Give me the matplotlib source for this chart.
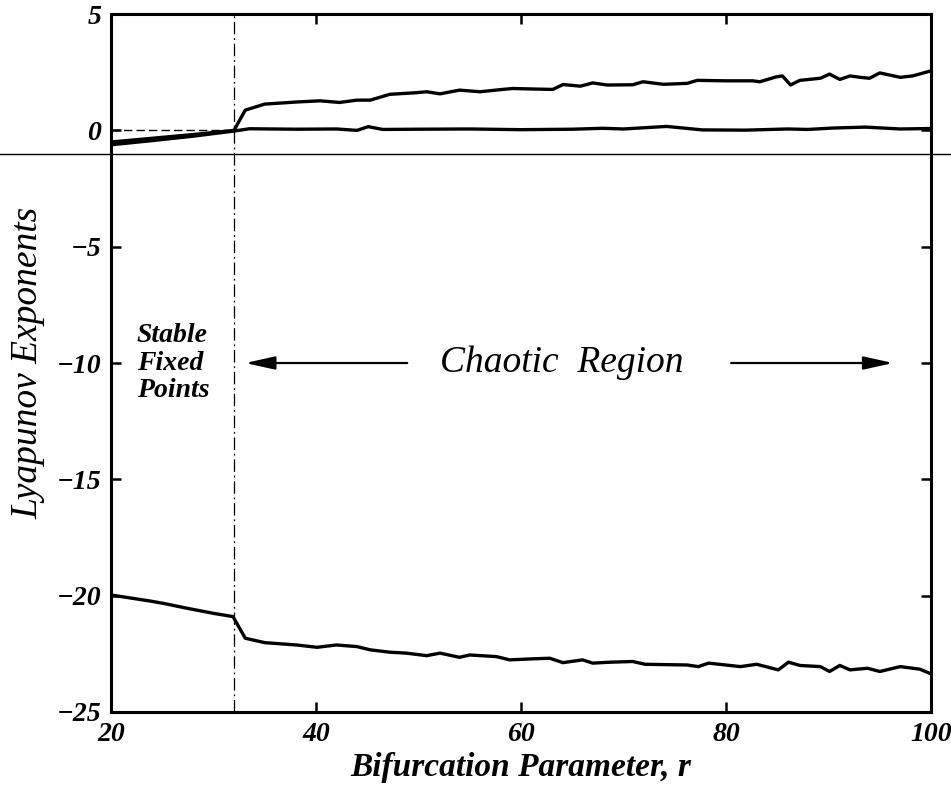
import numpy as np
import matplotlib
matplotlib.use('Agg')
import matplotlib.pyplot as plt

plt.rcParams['font.family'] = ['Liberation Serif', 'DejaVu Serif']
plt.rcParams['axes.unicode_minus'] = True

# largest exponent
r_top = [20, 22, 24, 26, 28, 30, 32, 33.1, 35, 38.1, 40.4, 42.3, 44, 45.3, 47.2, 49.8, 50.8, 52.1,
         54, 56, 58.2, 59.2, 61, 63.1, 64.1, 65.8, 67, 68.4, 70.9, 71.9, 73.9, 76.2, 77.2, 80, 82.6,
         83.3, 84.9, 85.5, 86.3, 87.2, 89.2, 90.1, 91.1, 92.1, 93.1, 94.0, 95.0, 97.0, 98.2, 100]
lam_top = [-0.5, -0.42, -0.34, -0.26, -0.18, -0.09, 0.0, 0.87, 1.13, 1.22, 1.27, 1.2, 1.3, 1.3, 1.55,
           1.62, 1.66, 1.57, 1.73, 1.66, 1.76, 1.8, 1.78, 1.76, 1.97, 1.9, 2.04, 1.95, 1.96, 2.09,
           1.98, 2.02, 2.15, 2.13, 2.13, 2.09, 2.3, 2.34, 1.95, 2.15, 2.24, 2.42, 2.19, 2.34, 2.28,
           2.24, 2.47, 2.28, 2.34, 2.56]

# zero exponent
r_mid = [20, 24, 28, 32, 33.5, 38, 42, 44, 45.1, 46.5, 50, 55, 60, 65, 68, 70, 74.2, 77.7, 81.9,
         86, 88, 90.4, 93.6, 97, 100]
lam_mid = [-0.62, -0.44, -0.25, -0.03, 0.07, 0.05, 0.06, 0.0, 0.16, 0.04, 0.05, 0.06, 0.03, 0.05,
           0.09, 0.06, 0.17, 0.02, 0.01, 0.06, 0.04, 0.1, 0.14, 0.06, 0.08]

# most negative exponent
r_low = [20, 23.8, 25.1, 27.4, 30, 31.9, 33.1, 35, 38.1, 40.1, 42, 44, 45.3, 47.2, 48.8, 50.8, 52.1,
         54, 55, 57.6, 58.9, 60.9, 62.8, 64.1, 66, 67, 68.7, 70.9, 72.1, 76.2, 77.3, 78.3, 81.4, 83,
         85.1, 86.1, 87.2, 89.2, 90.1, 91.1, 92.1, 93.8, 95, 97, 98.9, 100]
lam_low = [-19.97, -20.23, -20.33, -20.54, -20.76, -20.9, -21.83, -22.02, -22.12, -22.22, -22.12,
           -22.19, -22.33, -22.43, -22.47, -22.58, -22.47, -22.65, -22.55, -22.62, -22.76, -22.72,
           -22.69, -22.88, -22.76, -22.9, -22.86, -22.83, -22.95, -22.98, -23.05, -22.9, -23.05,
           -22.95, -23.19, -22.86, -23.0, -23.05, -23.26, -23.0, -23.19, -23.12, -23.26, -23.05,
           -23.16, -23.36]

r_c = 32
xticks = [20, 40, 60, 80, 100]
yticks = [5, 0, -5, -10, -15, -20, -25]

fig = plt.figure(figsize=(9.51, 7.94), dpi=100)
ax = fig.add_axes([0.1167, 0.1033, 0.8623, 0.879])

for rr, ll in [(r_top, lam_top), (r_mid, lam_mid), (r_low, lam_low)]:
  ax.plot(rr, ll, color='k', lw=2.4, solid_joinstyle='round')

ax.axvline(r_c, color='k', lw=0.9, linestyle=(0, (10, 3, 1.5, 3)))
ax.plot([20, r_c], [0, 0], color='k', lw=1.0, linestyle=(0, (6, 3)))
ax.axhline(-1, xmin=-0.14, xmax=1.03, clip_on=False, color='k', lw=1.0)

ax.text(22.5, -10, 'Stable\nFixed\nPoints', fontsize=20, fontweight='bold', fontstyle='italic',
        ha='left', va='center', linespacing=1.15)
ax.text(64, -10, 'Chaotic  Region', fontsize=27, fontstyle='italic', ha='center', va='center')
arrow = dict(arrowstyle='-|>,head_length=0.9,head_width=0.2', lw=1.6, color='k',
             mutation_scale=20, shrinkA=0, shrinkB=0)
ax.annotate('', xy=(33.1, -10), xytext=(48.9, -10), arrowprops=arrow)
ax.annotate('', xy=(96.3, -10), xytext=(80.5, -10), arrowprops=arrow)

ax.set_xlim(20, 100)
ax.set_ylim(-25, 5)
ax.set_xticks(xticks)
ax.set_yticks(yticks)
ax.set_xticklabels([str(v) for v in xticks])
ax.set_yticklabels([str(v).replace('-', '\u2212') for v in yticks])
ax.tick_params(direction='in', length=7, width=1.8, top=True, right=True, labelsize=20, pad=7)
for lab in ax.get_xticklabels() + ax.get_yticklabels():
  lab.set_fontweight('bold')
  lab.set_fontstyle('italic')
for s in ax.spines.values():
  s.set_linewidth(2.2)

ax.set_xlabel('Bifurcation Parameter, r', fontsize=24, fontweight='bold', fontstyle='italic', labelpad=4)
ax.set_ylabel('Lyapunov Exponents', fontsize=27, fontstyle='italic', labelpad=8)

fig.savefig('out.png', dpi=100)
